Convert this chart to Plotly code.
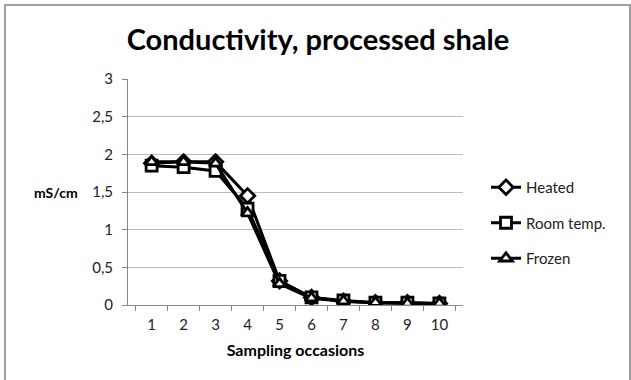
import plotly.graph_objects as go

occasions = ["1", "2", "3", "4", "5", "6", "7", "8", "9", "10"]
heated = [1.88, 1.90, 1.90, 1.45, 0.32, 0.10, 0.05, 0.03, 0.03, 0.02]
room_temp = [1.85, 1.83, 1.78, 1.28, 0.32, 0.10, 0.06, 0.03, 0.03, 0.02]
frozen = [1.90, 1.90, 1.88, 1.22, 0.28, 0.09, 0.05, 0.03, 0.02, 0.02]

series = [
    ("Heated", heated, "diamond"),
    ("Room temp.", room_temp, "square"),
    ("Frozen", frozen, "triangle-up"),
]

W, H = 631, 380
L, R, T, B = 128, 168, 79, 75
pw, ph = W - L - R, H - T - B

fig = go.Figure()
for i, (name, vals, sym) in enumerate(series):
    fig.add_trace(go.Scatter(
        x=occasions, y=vals, name=name, mode="lines+markers",
        line=dict(color="black", width=3),
        marker=dict(symbol=sym, size=11, color="white",
                    line=dict(color="black", width=2.8)),
        legendgroup=str(i),
    ))

def px_x(p):
    return (p - L) / pw

def px_y(p):
    return (H - B - p) / ph

border = dict(color="#a0a0a0", width=2)
fig.add_shape(type="line", xref="paper", yref="paper",
              x0=px_x(5), x1=px_x(5), y0=px_y(4), y1=px_y(381), line=border)
fig.add_shape(type="line", xref="paper", yref="paper",
              x0=px_x(4), x1=px_x(630), y0=px_y(5), y1=px_y(5), line=border)
fig.add_shape(type="line", xref="paper", yref="paper",
              x0=px_x(630), x1=px_x(630), y0=px_y(4), y1=px_y(381), line=border)

fig.update_layout(
    width=W, height=H,
    margin=dict(l=L, r=R, t=T, b=B, autoexpand=False),
    paper_bgcolor="white", plot_bgcolor="white",
    separators=",.",
    font=dict(family="Lato, Open Sans, sans-serif", color="#222", size=15),
    title=dict(text="<b>Conductivity, processed shale</b>",
               font=dict(size=29, color="black"),
               x=318 / W, xanchor="center", y=1 - 40 / H, yanchor="middle"),
    showlegend=True,
    legend=dict(x=px_x(486), y=px_y(223), xanchor="left", yanchor="middle",
                font=dict(size=15, color="#222"), tracegroupgap=13,
                bgcolor="rgba(0,0,0,0)", itemwidth=30),
    xaxis=dict(type="category", tickson="boundaries", ticks="outside",
               ticklen=5, tickcolor="#888", showline=True, linecolor="#888",
               linewidth=1, showgrid=False, tickfont=dict(size=15),
               ticklabelstandoff=6,
               title=dict(text="<b>Sampling occasions</b>",
                          font=dict(size=16, color="black"), standoff=12),
               fixedrange=True),
    yaxis=dict(range=[0, 3], dtick=0.5, ticks="outside", ticklen=5,
               tickcolor="#888", showline=True, linecolor="#888", linewidth=1,
               showgrid=True, gridcolor="#bcbcbc", gridwidth=1,
               zeroline=False, tickfont=dict(size=15), ticklabelstandoff=6,
               fixedrange=True),
    annotations=[dict(text="<b>mS/cm</b>", xref="paper", yref="paper",
                      x=px_x(56), y=px_y(192), xanchor="center",
                      yanchor="middle", showarrow=False,
                      font=dict(size=14, color="black"))],
)

fig.write_html("out.html")
